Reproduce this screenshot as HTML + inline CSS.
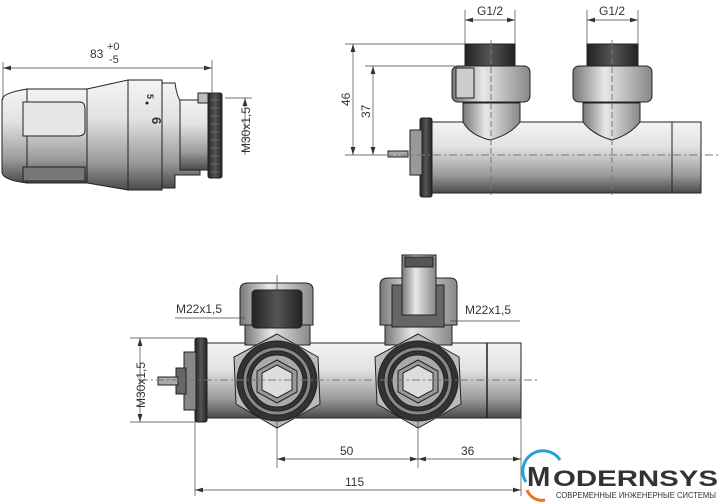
<!DOCTYPE html>
<html><head><meta charset="utf-8"><style>
html,body{margin:0;padding:0;background:#fff;width:720px;height:502px;overflow:hidden}
text{font-family:"Liberation Sans",sans-serif;fill:#333}
</style></head><body>
<svg width="720" height="502" viewBox="0 0 720 502" xmlns="http://www.w3.org/2000/svg">
<defs>
<linearGradient id="g" x1="0" y1="0" x2="0" y2="1">
<stop offset="0" stop-color="#f4f4f4"/><stop offset="0.35" stop-color="#e2e2e2"/><stop offset="0.75" stop-color="#9a9a9a"/><stop offset="1" stop-color="#4a4a4a"/></linearGradient>
<linearGradient id="gh" x1="0" y1="0" x2="1" y2="0">
<stop offset="0" stop-color="#777"/><stop offset="0.4" stop-color="#e8e8e8"/><stop offset="1" stop-color="#888"/></linearGradient>
<linearGradient id="gd" x1="0" y1="0" x2="1" y2="0">
<stop offset="0" stop-color="#222"/><stop offset="0.5" stop-color="#555"/><stop offset="1" stop-color="#222"/></linearGradient>
<marker id="a" viewBox="0 0 10 6" refX="10" refY="3" markerWidth="8" markerHeight="5" orient="auto-start-reverse" markerUnits="userSpaceOnUse"><path d="M0,0 L10,3 L0,6 Z" fill="#333"/></marker>
</defs>
<g stroke="#222" stroke-width="1" fill="none">
<!-- thermostat -->
<path d="M2,100 Q2,93 27,89 L27,183 Q2,180 2,172 Z" fill="url(#g)"/>
<rect x="27" y="89" width="60" height="94" fill="url(#g)"/>
<path d="M23,102 L80,102 Q85,102 85,110 L85,130 Q85,136 78,136 L23,136 Z" fill="#e6e6e6"/>
<rect x="23" y="167" width="62" height="14" fill="#777"/>
<path d="M87,89 L128,80 L128,190 L87,183 Z" fill="url(#g)"/>
<rect x="128" y="80" width="34" height="110" fill="url(#g)"/>
<path d="M162,83 L175,83 Q178,110 200,120 L200,175 L175,175 L175,188 L162,188 Z" fill="url(#g)"/>
<rect x="180" y="100" width="30" height="70" fill="url(#g)"/>
<rect x="198" y="93" width="10" height="10" fill="#bbb"/>
<rect x="208" y="93" width="14" height="85" rx="2" fill="url(#gd)"/>
<path d="M210,100 h10 M210,108 h10 M210,116 h10 M210,124 h10 M210,132 h10 M210,140 h10 M210,148 h10 M210,156 h10 M210,164 h10 M210,172 h10" stroke="#888" stroke-width="0.6"/>
<g stroke="#444" stroke-width="0.7">
<line x1="3" y1="62" x2="3" y2="100"/><line x1="212" y1="60" x2="212" y2="95"/>
<line x1="3" y1="68" x2="212" y2="68" marker-start="url(#a)" marker-end="url(#a)"/>
<line x1="225" y1="98" x2="252" y2="98"/><line x1="245" y1="155" x2="245" y2="98" marker-end="url(#a)"/>
</g>
<!-- top right valve -->
<rect x="430" y="122" width="271" height="71" fill="url(#g)"/>
<line x1="672" y1="122" x2="672" y2="193"/>
<rect x="420" y="118" width="12" height="79" rx="2" fill="url(#gd)"/>
<rect x="410" y="130" width="12" height="45" fill="#999"/>
<rect x="388" y="151" width="20" height="6" fill="#aaa"/>
<path d="M463,122 L463,103 L520,103 L520,122 Q510,135 490,140 Q470,135 463,122Z" fill="url(#gh)"/>
<path d="M583,122 L583,103 L640,103 L640,122 Q630,135 612,140 Q593,135 583,122Z" fill="url(#gh)"/>
<rect x="452" y="66" width="78" height="36" rx="6" fill="url(#gh)"/>
<rect x="573" y="66" width="79" height="36" rx="6" fill="url(#gh)"/>
<rect x="456" y="68" width="18" height="30" fill="#ccc"/>
<rect x="465" y="44" width="50" height="22" fill="url(#gd)"/>
<rect x="587" y="44" width="51" height="22" fill="url(#gd)"/>
<g stroke="#444" stroke-width="0.7">
<line x1="465" y1="10" x2="465" y2="44"/><line x1="515" y1="10" x2="515" y2="44"/><line x1="465" y1="20" x2="515" y2="20" marker-start="url(#a)" marker-end="url(#a)"/>
<line x1="587" y1="10" x2="587" y2="44"/><line x1="638" y1="10" x2="638" y2="44"/><line x1="587" y1="20" x2="638" y2="20" marker-start="url(#a)" marker-end="url(#a)"/>
<line x1="345" y1="44" x2="465" y2="44"/><line x1="365" y1="66" x2="455" y2="66"/>
<line x1="353" y1="44" x2="353" y2="155" marker-start="url(#a)" marker-end="url(#a)"/><line x1="373" y1="66" x2="373" y2="155" marker-start="url(#a)" marker-end="url(#a)"/>
<line x1="345" y1="155" x2="385" y2="155"/>
</g>
<line x1="385" y1="155" x2="718" y2="155" stroke="#777" stroke-dasharray="8,3,2,3"/>
<line x1="491" y1="40" x2="491" y2="195" stroke="#777" stroke-dasharray="6,3"/>
<line x1="612" y1="40" x2="612" y2="195" stroke="#777" stroke-dasharray="6,3"/>
<!-- bottom valve -->
<rect x="207" y="343" width="314" height="75" fill="url(#g)"/>
<line x1="487" y1="343" x2="487" y2="418" stroke-width="1.5"/>
<rect x="195" y="338" width="12" height="84" rx="2" fill="url(#gd)"/>
<rect x="184" y="352" width="12" height="58" fill="#888"/>
<rect x="176" y="368" width="10" height="26" fill="#666"/>
<rect x="158" y="377" width="20" height="8" fill="#aaa"/>
<rect x="245" y="325" width="65" height="20" fill="url(#gh)"/>
<path d="M240,290 Q240,283 248,283 L305,283 Q313,283 313,290 L313,325 L240,325 Z" fill="url(#gh)"/>
<rect x="252" y="290" width="50" height="38" rx="4" fill="url(#gd)"/>
<rect x="385" y="325" width="67" height="20" fill="url(#gh)"/>
<path d="M380,285 Q380,278 388,278 L450,278 Q457,278 457,285 L457,325 L380,325 Z" fill="url(#gh)"/>
<rect x="392" y="285" width="52" height="42" fill="#666"/>
<rect x="402" y="255" width="34" height="60" fill="url(#gh)"/>
<rect x="405" y="257" width="28" height="10" fill="#555"/>
<g id="hx">
<polygon points="277,334 318,357 320,404 277,428 236,404 234,357" fill="#bbb"/>
<circle cx="277" cy="381" r="40" fill="#333"/>
<circle cx="277" cy="381" r="34" fill="#888"/>
<circle cx="277" cy="381" r="30" fill="#333"/>
<circle cx="277" cy="381" r="26" fill="#aaa"/>
<polygon points="277,360 297,371 297,392 277,403 257,392 257,371" fill="#999"/>
<polygon points="277,365 292,373 292,390 277,398 262,390 262,373" fill="#ddd"/>
</g>
<use href="#hx" x="141" y="0"/>
<line x1="140" y1="380" x2="537" y2="380" stroke="#777" stroke-dasharray="8,3,2,3"/>
<g stroke="#444" stroke-width="0.7">
<line x1="277" y1="420" x2="277" y2="468"/><line x1="418" y1="420" x2="418" y2="468"/>
<line x1="521" y1="418" x2="521" y2="496"/><line x1="195" y1="422" x2="195" y2="496"/>
<line x1="277" y1="459" x2="418" y2="459" marker-start="url(#a)" marker-end="url(#a)"/>
<line x1="418" y1="459" x2="521" y2="459" marker-start="url(#a)" marker-end="url(#a)"/>
<line x1="195" y1="490" x2="521" y2="490" marker-start="url(#a)" marker-end="url(#a)"/>
<line x1="130" y1="338" x2="195" y2="338"/><line x1="130" y1="422" x2="195" y2="422"/>
<line x1="140" y1="338" x2="140" y2="422" marker-start="url(#a)" marker-end="url(#a)"/>
<line x1="175" y1="318" x2="245" y2="318"/><line x1="450" y1="321" x2="520" y2="321"/>
<line x1="277" y1="275" x2="277" y2="290"/>
</g>
</g>
<text x="147" y="94" font-size="9" font-weight="bold" transform="rotate(90 147 94)">5</text>
<circle cx="147" cy="103" r="1.5" fill="#222"/>
<text x="143" y="116" font-size="13" font-weight="bold" transform="rotate(90 147 121)">6</text>
<g font-size="12">
<text x="90" y="58">83</text><text x="107" y="50" font-size="11">+0</text><text x="109" y="63" font-size="11">-5</text>
<text transform="translate(250,153) rotate(-90)">M30x1,5</text>
<text x="477" y="15">G1/2</text><text x="599" y="15">G1/2</text>
<text transform="translate(350,106) rotate(-90)">46</text>
<text transform="translate(370,118) rotate(-90)">37</text>
<text x="176" y="313">M22x1,5</text><text x="465" y="314">M22x1,5</text>
<text transform="translate(145,408) rotate(-90)">M30x1,5</text>
<text x="340" y="455">50</text><text x="461" y="455">36</text><text x="345" y="486">115</text>
</g>
<path d="M526,482 A20,20 0 0 1 560,460" stroke="#2a9fd8" stroke-width="3" fill="none"/>
<path d="M527,490 A16,16 0 0 0 545,500" stroke="#e8742a" stroke-width="3" fill="none"/>
<text x="527" y="486" font-size="28" font-weight="bold" fill="#333">M</text>
<text x="553" y="486" font-size="22" font-weight="bold" fill="#333" textLength="165" lengthAdjust="spacingAndGlyphs">ODERNSYS</text>
<text x="556" y="498" font-size="8" fill="#777" textLength="160" lengthAdjust="spacingAndGlyphs">СОВРЕМЕННЫЕ ИНЖЕНЕРНЫЕ СИСТЕМЫ</text>
</svg>
</body></html>
